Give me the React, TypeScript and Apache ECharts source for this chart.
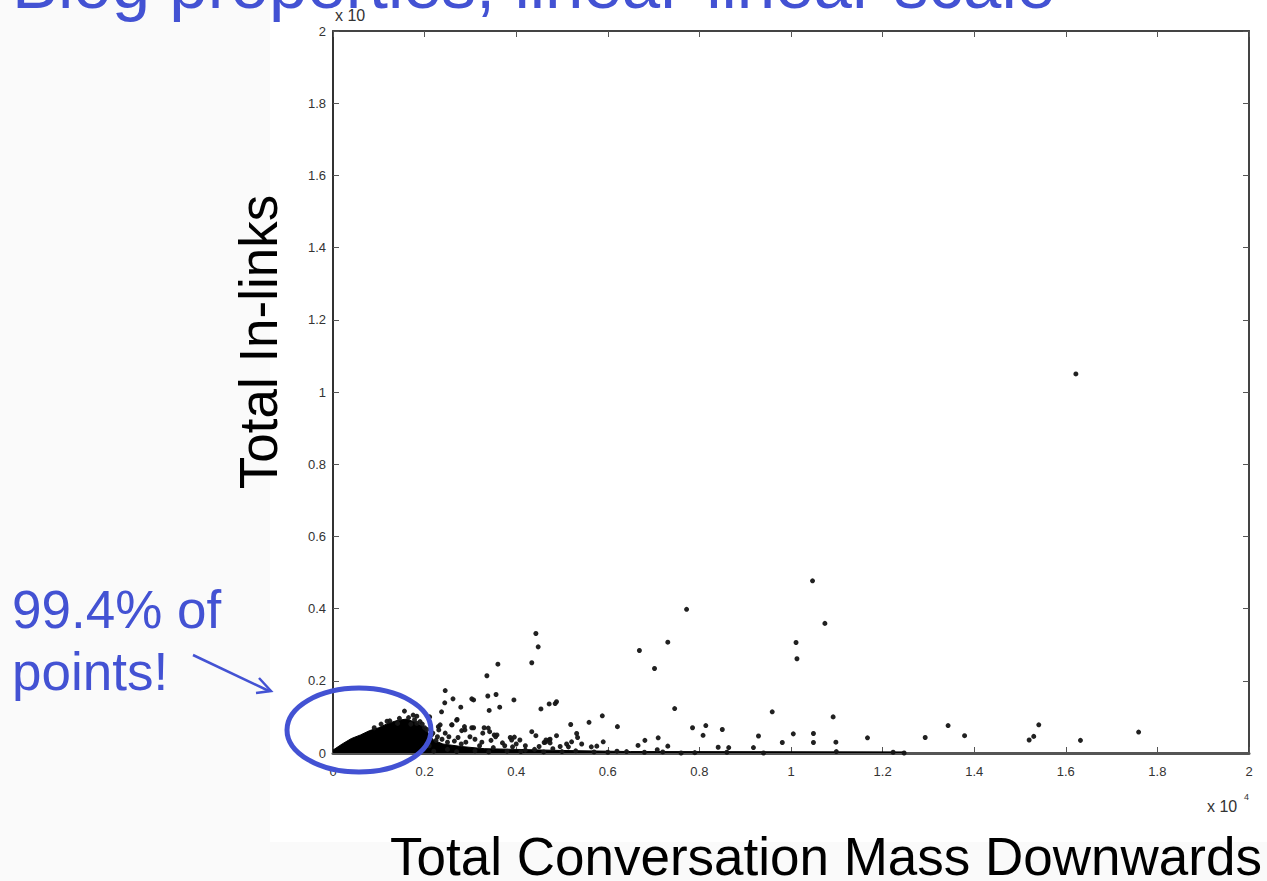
import React, { useEffect, useRef } from "react";
import * as echarts from "echarts";

// Axis ticks (values in units of 10^4)
const xTickLabels = ["0", "0.2", "0.4", "0.6", "0.8", "1", "1.2", "1.4", "1.6", "1.8", "2"];
const yTickLabels = ["0", "0.2", "0.4", "0.6", "0.8", "1", "1.2", "1.4", "1.6", "1.8", "2"];

const titleText = "Blog properties, linear-linear scale";
const xAxisName = "Total Conversation Mass Downwards";
const yAxisName = "Total In-links";
const noteLines = ["99.4% of", "points!"];

// Upper edge of the solid dense cloud of points near the origin (x, y in 10^4)
const denseCloudEdge: [number, number][] = [
  [0, 0.008], [0.02, 0.025], [0.04, 0.04], [0.06, 0.05], [0.08, 0.062],
  [0.1, 0.07], [0.12, 0.082], [0.14, 0.09], [0.16, 0.094], [0.18, 0.085],
  [0.2, 0.07], [0.21, 0.05], [0.22, 0.035], [0.24, 0.025], [0.28, 0.018],
  [0.33, 0.012], [0.4, 0.01], [0.5, 0.007], [0.65, 0.004], [1.25, 0.003],
];

// Individual blogs: [conversation mass downwards, in-links] (x 10^4)
const blogPoints: [number, number][] = [
  [1.622, 1.05], [1.092, 0.1], [1.098, 0.03], [1.099, 0.004], [1.167, 0.042],
  [1.223, 0.002], [1.247, 0.0], [1.293, 0.043], [1.343, 0.076], [1.379, 0.048],
  [1.52, 0.036], [1.53, 0.046], [1.541, 0.078], [1.632, 0.035], [1.759, 0.058],
  [1.047, 0.477], [1.074, 0.359], [1.011, 0.306], [1.013, 0.261], [0.959, 0.114],
  [1.049, 0.054], [1.049, 0.029], [1.005, 0.053], [0.981, 0.029], [0.929, 0.047],
  [0.918, 0.015], [0.94, 0.0], [0.864, 0.015], [0.841, 0.016], [0.85, 0.065],
  [0.814, 0.076], [0.808, 0.049], [0.785, 0.07], [0.76, 0.0], [0.731, 0.019],
  [0.71, 0.042], [0.708, 0.009], [0.681, 0.035], [0.666, 0.021], [0.641, 0.004],
  [0.772, 0.398], [0.731, 0.307], [0.669, 0.284], [0.702, 0.234], [0.746, 0.123],
  [0.621, 0.073], [0.588, 0.103], [0.559, 0.085], [0.519, 0.079], [0.59, 0.031],
  [0.576, 0.019], [0.543, 0.025], [0.532, 0.054], [0.534, 0.043], [0.521, 0.031],
  [0.488, 0.048], [0.474, 0.038], [0.461, 0.029], [0.496, 0.018], [0.488, 0.142],
  [0.485, 0.137], [0.472, 0.136], [0.454, 0.122], [0.443, 0.331], [0.448, 0.294],
  [0.434, 0.25], [0.36, 0.246], [0.336, 0.214], [0.245, 0.173], [0.244, 0.139],
  [0.262, 0.15], [0.279, 0.127], [0.237, 0.114], [0.303, 0.15], [0.307, 0.147],
  [0.338, 0.158], [0.356, 0.162], [0.341, 0.118], [0.364, 0.127], [0.395, 0.147],
  [0.434, 0.059], [0.443, 0.048], [0.464, 0.03], [0.472, 0.036], [0.408, 0.036],
  [0.396, 0.044], [0.387, 0.043], [0.355, 0.045], [0.358, 0.05], [0.33, 0.07],
  [0.339, 0.069], [0.327, 0.055], [0.303, 0.07], [0.307, 0.07], [0.287, 0.073],
  [0.281, 0.062], [0.271, 0.093], [0.26, 0.078], [0.23, 0.073], [0.234, 0.078],
  [0.299, 0.045], [0.273, 0.043], [0.392, 0.017], [0.375, 0.02], [0.51, 0.025],
  [0.514, 0.017], [0.564, 0.017], [0.42, 0.008], [0.44, 0.01],
  [0.156, 0.116], [0.183, 0.102], [0.145, 0.096], [0.124, 0.089], [0.19, 0.087],
  [0.211, 0.1], [0.231, 0.064], [0.245, 0.055], [0.259, 0.078], [0.27, 0.091],
  [0.288, 0.064], [0.342, 0.059], [0.352, 0.05], [0.39, 0.036], [0.465, 0.036],
  [0.474, 0.028], [0.17, 0.08], [0.2, 0.07], [0.215, 0.05], [0.225, 0.035],
  [0.25, 0.03], [0.28, 0.025], [0.32, 0.02], [0.35, 0.015], [0.25, 0.01],
  [0.21, 0.02], [0.141, 0.082], [0.183, 0.082], [0.175, 0.105],
  [0.22, 0.005], [0.27, 0.004], [0.31, 0.006], [0.34, 0.003], [0.38, 0.005],
  [0.41, 0.004], [0.46, 0.003], [0.5, 0.004], [0.53, 0.006], [0.57, 0.003],
  [0.6, 0.002], [0.62, 0.005], [0.68, 0.002], [0.72, 0.003], [0.79, 0.001],
  [0.86, 0.002],
  [0.09, 0.07], [0.105, 0.08], [0.118, 0.088], [0.165, 0.098], [0.178, 0.092],
  [0.195, 0.08], [0.205, 0.065], [0.218, 0.055], [0.228, 0.045], [0.238, 0.038],
  [0.253, 0.045], [0.265, 0.033], [0.29, 0.03], [0.31, 0.038], [0.325, 0.03],
  [0.345, 0.035], [0.37, 0.028], [0.4, 0.025], [0.42, 0.02], [0.45, 0.018],
  [0.48, 0.012],
];

const BLUE = "#4352d3";
const FONT = '"Liberation Sans", Arial, Helvetica, sans-serif';

export default function App() {
  const ref = useRef<HTMLDivElement>(null);

  useEffect(() => {
    if (!ref.current) return;
    const chart = echarts.init(ref.current, null, { renderer: "svg" });

    const baseAxisLabel = {
      color: "#333",
      fontSize: 13,
      fontFamily: FONT,
    };

    const tick = { show: true, inside: true, length: 6, lineStyle: { color: "#555", width: 1 } };

    const xAxisCommon = {
      type: "value" as const,
      min: 0,
      max: 2,
      interval: 0.2,
      splitLine: { show: false },
      axisTick: tick,
    };
    const yAxisCommon = {
      type: "value" as const,
      min: 0,
      max: 2,
      interval: 0.2,
      splitLine: { show: false },
      axisTick: tick,
    };

    chart.setOption({
      animation: false,
      backgroundColor: "#fafafa",
      grid: { left: 333, top: 31, width: 916, height: 722, containLabel: false },
      xAxis: [
        {
          ...xAxisCommon,
          position: "bottom",
          axisLine: { show: true, onZero: false, lineStyle: { color: "#555", width: 3 } },
          axisLabel: {
            ...baseAxisLabel,
            margin: 12,
            formatter: (_v: number, i: number) => xTickLabels[i],
          },
        },
        {
          ...xAxisCommon,
          position: "top",
          axisLine: { show: true, onZero: false, lineStyle: { color: "#444", width: 2 } },
          axisLabel: { show: false },
        },
      ],
      yAxis: [
        {
          ...yAxisCommon,
          position: "left",
          axisLine: { show: true, onZero: false, lineStyle: { color: "#333", width: 2 } },
          axisLabel: {
            ...baseAxisLabel,
            margin: 7,
            formatter: (_v: number, i: number) => yTickLabels[i],
          },
        },
        {
          ...yAxisCommon,
          position: "right",
          axisLine: { show: true, onZero: false, lineStyle: { color: "#444", width: 2 } },
          axisLabel: { show: false },
        },
      ],
      series: [
        {
          type: "line",
          data: denseCloudEdge,
          xAxisIndex: 0,
          yAxisIndex: 0,
          showSymbol: false,
          symbol: "none",
          lineStyle: { color: "#000", width: 1 },
          areaStyle: { color: "#000", opacity: 1 },
          z: 2,
          silent: true,
        },
        {
          type: "scatter",
          data: blogPoints,
          xAxisIndex: 0,
          yAxisIndex: 0,
          symbol: "circle",
          symbolSize: 5,
          itemStyle: { color: "#151515", opacity: 0.95 },
          z: 3,
          silent: true,
        },
      ],
      graphic: [
        {
          type: "rect",
          z: -100,
          silent: true,
          shape: { x: 270, y: 0, width: 997, height: 842 },
          style: { fill: "#ffffff" },
        },
        {
          type: "text",
          z: 50,
          x: 335,
          y: 15,
          style: { text: "x 10", font: `16px ${FONT}`, fill: "#333", verticalAlign: "middle" },
        },
        {
          type: "text",
          z: 50,
          x: 1207,
          y: 806,
          style: { text: "x 10", font: `16px ${FONT}`, fill: "#333", verticalAlign: "middle" },
        },
        {
          type: "text",
          z: 50,
          x: 1244,
          y: 797,
          style: { text: "4", font: `9px ${FONT}`, fill: "#333", verticalAlign: "middle" },
        },
        {
          type: "text",
          z: 100,
          x: 12,
          y: 19,
          style: {
            text: titleText,
            font: `69px ${FONT}`,
            fill: BLUE,
            verticalAlign: "bottom",
          },
        },
        {
          type: "text",
          z: 100,
          x: 390,
          y: 856,
          style: {
            text: xAxisName,
            font: `53px ${FONT}`,
            fill: "#000",
            verticalAlign: "middle",
          },
        },
        {
          type: "text",
          z: 100,
          x: 258,
          y: 342,
          rotation: Math.PI / 2,
          style: {
            text: yAxisName,
            font: `53px ${FONT}`,
            fill: "#000",
            align: "center",
            verticalAlign: "middle",
          },
        },
        {
          type: "text",
          z: 100,
          x: 12,
          y: 609,
          style: { text: noteLines[0], font: `53px ${FONT}`, fill: BLUE, verticalAlign: "middle" },
        },
        {
          type: "text",
          z: 100,
          x: 12,
          y: 671,
          style: { text: noteLines[1], font: `53px ${FONT}`, fill: BLUE, verticalAlign: "middle" },
        },
        {
          type: "ellipse",
          z: 100,
          shape: { cx: 359, cy: 730, rx: 72, ry: 42 },
          style: { fill: "none", stroke: BLUE, lineWidth: 5 },
        },
        {
          type: "line",
          z: 100,
          shape: { x1: 193, y1: 655, x2: 269, y2: 691 },
          style: { stroke: BLUE, lineWidth: 2.5 },
        },
        {
          type: "polyline",
          z: 100,
          shape: { points: [[259, 678], [271, 691], [256, 693]] },
          style: { stroke: BLUE, lineWidth: 2.5, fill: "none" },
        },
      ],
    });

    return () => chart.dispose();
  }, []);

  return (
    <div
      ref={ref}
      style={{ position: "fixed", left: 0, top: 0, width: 1267, height: 881 }}
    />
  );
}
